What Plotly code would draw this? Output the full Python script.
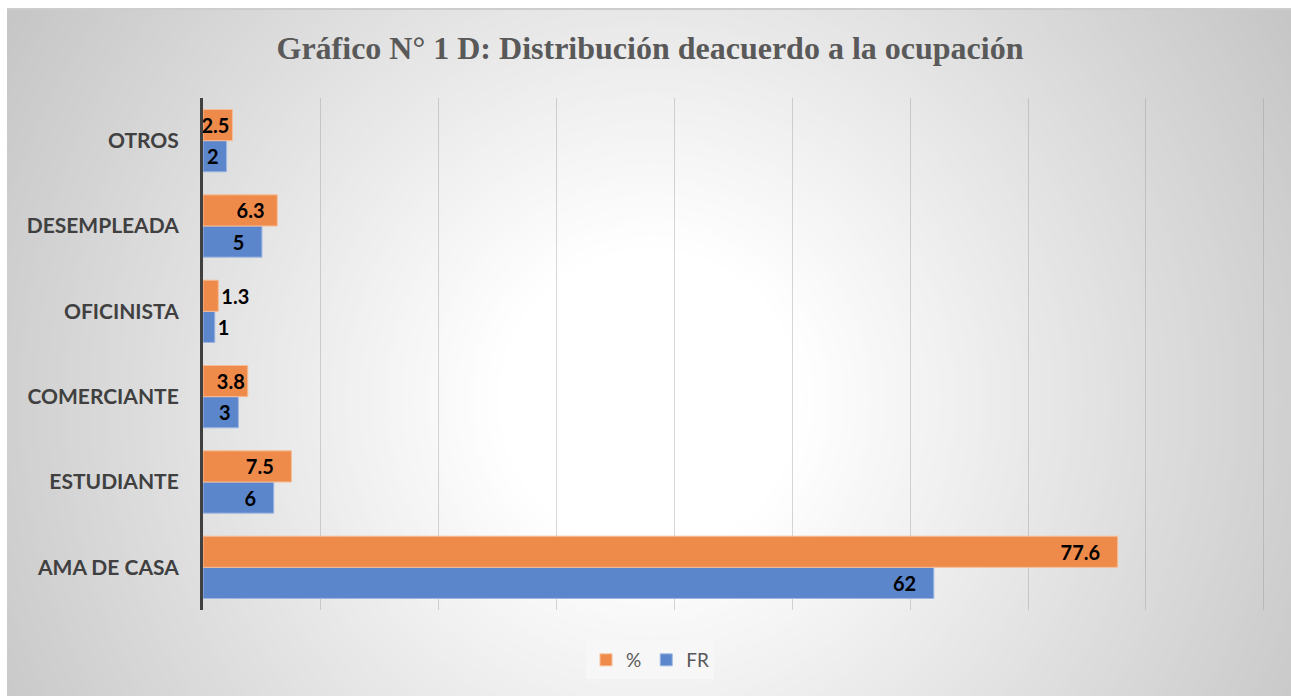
import plotly.graph_objects as go

categories = ["AMA DE CASA", "ESTUDIANTE", "COMERCIANTE", "OFICINISTA", "DESEMPLEADA", "OTROS"]
fr_values = [62, 6, 3, 1, 5, 2]
pct_values = [77.6, 7.5, 3.8, 1.3, 6.3, 2.5]
series_names = ["FR", "%"]
title_text = "Gráfico N° 1 D: Distribución deacuerdo a la ocupación"

W, H = 1291, 696
ML, MR, MT, MB = 203, 26, 98, 86
PW, PH = W - ML - MR, H - MT - MB

def px_x(p):
    return (p - ML) / PW

def px_y(p):
    return (H - MB - p) / PH

label_font = dict(family="Lato", size=20, color="#000000", weight="bold")
NB = "\u00a0"

# label placement per bar (style only): inside-end for long bars, outside for tiny ones
fr_pos = ["inside", "inside", "inside", "outside", "inside", "inside"]
fr_tpl = ["%{x}" + NB * 3, "%{x}" + NB * 3, "%{x}" + NB, "%{x}", "%{x}" + NB * 3, "%{x}" + NB]
pct_pos = ["inside", "inside", "inside", "outside", "inside", "inside"]
pct_tpl = ["%{x}" + NB * 3, "%{x}" + NB * 3, "%{x}", "%{x}", "%{x}" + NB * 2, "%{x}"]

fig = go.Figure()
fig.add_trace(go.Bar(
    y=categories, x=fr_values, name=series_names[0], orientation="h",
    marker=dict(color="#5B86CB", line=dict(color="#9DB6E2", width=1)),
    texttemplate=fr_tpl, textposition=fr_pos, insidetextanchor="end",
    constraintext="none", textangle=0, cliponaxis=False,
    insidetextfont=label_font, outsidetextfont=label_font,
))
fig.add_trace(go.Bar(
    y=categories, x=pct_values, name=series_names[1], orientation="h",
    marker=dict(color="#EE8B4B", line=dict(color="#F6BE98", width=1)),
    texttemplate=pct_tpl, textposition=pct_pos, insidetextanchor="end",
    constraintext="none", textangle=0, cliponaxis=False,
    insidetextfont=label_font, outsidetextfont=label_font,
))

# radial background gradient made of concentric circles
shapes = []
cx, cy = 650, 400
radii = list(range(800, 140, -6))
for r in radii:
    t = (r - 150) / 650.0
    t = max(0.0, min(1.0, t))
    v = int(round(255 - t * 62))
    shapes.append(dict(type="circle", xref="paper", yref="paper", layer="below",
                       x0=px_x(cx - r), x1=px_x(cx + r),
                       y0=px_y(cy + r), y1=px_y(cy - r),
                       fillcolor=f"rgb({v},{v},{v})", line=dict(width=0)))
# white page border on top and left, as in the reference screenshot
shapes.append(dict(type="rect", xref="paper", yref="paper", layer="below",
                   x0=px_x(-20), x1=px_x(W + 20), y0=px_y(8), y1=px_y(-20),
                   fillcolor="#ffffff", line=dict(width=0)))
shapes.append(dict(type="rect", xref="paper", yref="paper", layer="below",
                   x0=px_x(-20), x1=px_x(7), y0=px_y(H + 20), y1=px_y(-20),
                   fillcolor="#ffffff", line=dict(width=0)))
shapes.append(dict(type="line", xref="paper", yref="paper", layer="below",
                   x0=px_x(7), x1=px_x(W), y0=px_y(9), y1=px_y(9),
                   line=dict(color="#cdcdcd", width=2)))

fig.update_layout(
    width=W, height=H,
    margin=dict(l=ML, r=MR, t=MT, b=MB),
    paper_bgcolor="rgb(193,193,193)",
    plot_bgcolor="rgba(0,0,0,0)",
    barmode="group", bargap=0.27, bargroupgap=0,
    shapes=shapes,
    title=dict(text=title_text, x=650 / W, xref="container", xanchor="center",
               y=1 - 48 / H, yanchor="middle",
               font=dict(family="Liberation Serif", size=32, color="#595959", weight="bold")),
    xaxis=dict(range=[0, 90.1], tick0=0, dtick=10, showgrid=True,
               gridcolor="rgba(140,140,140,0.35)",
               gridwidth=1, showticklabels=False, zeroline=False, showline=False,
               fixedrange=True),
    yaxis=dict(showline=True, linecolor="#404040", linewidth=3, ticks="",
               ticklabelstandoff=17,
               tickfont=dict(family="Lato", size=21, color="#404040", weight="bold"),
               showgrid=False),
    legend=dict(orientation="h", traceorder="reversed",
                x=px_x(650), xanchor="center", y=px_y(660), yanchor="middle",
                bgcolor="rgba(247,247,247,0.8)",
                font=dict(family="Lato", size=19, color="#595959")),
    showlegend=True,
)

fig.write_html("out.html", config={"displayModeBar": False},
               post_script="document.body.style.margin='0';document.body.style.overflow='hidden';")
